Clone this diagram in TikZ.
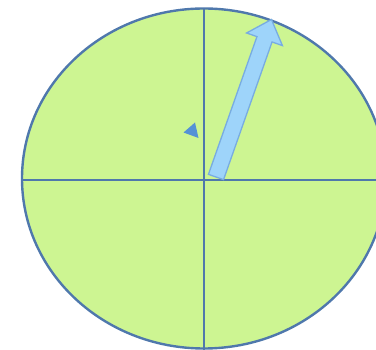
\documentclass[tikz,border=0pt]{standalone}
\usepackage{tikz}

\definecolor{disc}{RGB}{205,245,146}
\definecolor{rim}{RGB}{79,120,172}
\definecolor{vecfill}{RGB}{158,212,250}
\definecolor{vecline}{RGB}{120,172,225}
\definecolor{markblue}{RGB}{84,146,214}

\begin{document}
\begin{tikzpicture}[
    x=1pt, y=-1pt,
    axis/.style={draw=rim, line width=2.2pt},
    vector/.style={fill=vecfill, draw=vecline, line width=1.3pt, line join=miter}
]

\useasboundingbox (0,0) rectangle (376,350);
\clip (0,0) rectangle (376,350);

% disc
\filldraw[fill=disc, draw=rim, line width=2.4pt] (204,178.5) ellipse (182 and 170);

% axes
\draw[axis] (22,180) -- (376,180);
\draw[axis] (204,8.5) -- (204,350);

% vector
\begin{scope}[shift={(216,177)}, rotate=70.6]
  \draw[vector] (0,-8) -- (146,-8) -- (146,-19) -- (167,0) -- (146,19) -- (146,8) -- (0,8) -- cycle;
\end{scope}

% small marker
\fill[markblue] (183.5,132.5) -- (195,122.5) -- (198.5,138) -- cycle;

\end{tikzpicture}
\end{document}
